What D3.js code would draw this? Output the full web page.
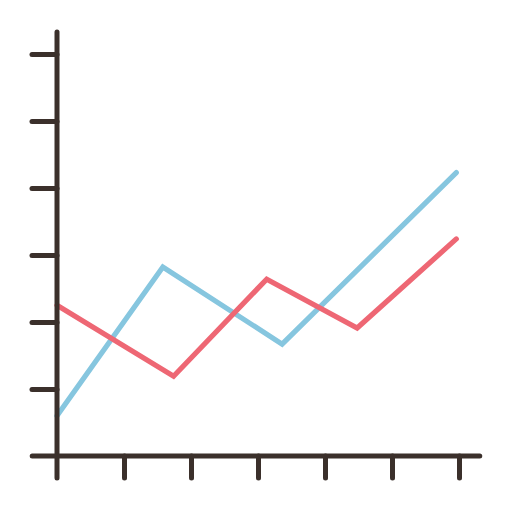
<!DOCTYPE html>
<html>
<head>
<meta charset="utf-8">
<script src="https://cdn.jsdelivr.net/npm/d3@7"></script>
<style>
  html, body { margin: 0; padding: 0; background: #fff; }
  svg { display: block; }
</style>
</head>
<body>
<div id="chart"></div>
<script>
// tick positions along each axis
const xTicks = [1, 2, 3, 4, 5, 6];
const yTicks = [1, 2, 3, 4, 5, 6];

// series (x in tick units, y in tick units)
const blueX = [0, 1.58, 3.36, 5.96];
const blueY = [0.6, 2.82, 1.67, 4.23];
const redX = [0, 1.74, 3.13, 4.48, 5.96];
const redY = [2.25, 1.19, 2.64, 1.91, 3.24];

const width = 512, height = 512;
const axisColor = '#3b302b';

const x = d3.scaleLinear().domain([0, 6]).range([57, 459]);
const y = d3.scaleLinear().domain([0, 6]).range([456, 54]);

const svg = d3.select('#chart')
  .append('svg')
    .attr('width', width)
    .attr('height', height);

const line = d3.line()
  .x(d => x(d[0]))
  .y(d => y(d[1]));

const series = [
  { color: '#86c6df', pts: d3.zip(blueX, blueY) },
  { color: '#ee6774', pts: d3.zip(redX, redY) }
];

svg.selectAll('.series')
  .data(series)
  .enter().append('path')
    .attr('class', 'series')
    .attr('d', d => line(d.pts))
    .attr('fill', 'none')
    .attr('stroke', d => d.color)
    .attr('stroke-width', 5.2)
    .attr('stroke-linecap', 'round')
    .attr('stroke-linejoin', 'miter');

// axes: ticks from d3 axis, domain lines drawn with round caps
const yAxis = svg.append('g')
  .attr('transform', `translate(${x(0)},0)`)
  .call(d3.axisLeft(y).tickValues(yTicks).tickSize(25).tickSizeOuter(0).tickFormat(''));

const xAxis = svg.append('g')
  .attr('transform', `translate(0,${y(0)})`)
  .call(d3.axisBottom(x).tickValues(xTicks).tickSize(22).tickSizeOuter(0).tickFormat(''));

[yAxis, xAxis].forEach(g => {
  g.select('.domain').remove();
  g.selectAll('.tick line')
    .attr('stroke', axisColor)
    .attr('stroke-width', 5)
    .attr('stroke-linecap', 'round');
});

svg.append('line')
  .attr('x1', x(0)).attr('x2', x(0))
  .attr('y1', y(6.33)).attr('y2', y(-0.33))
  .attr('stroke', axisColor).attr('stroke-width', 5).attr('stroke-linecap', 'round');

svg.append('line')
  .attr('x1', x(-0.37)).attr('x2', x(6.31))
  .attr('y1', y(0)).attr('y2', y(0))
  .attr('stroke', axisColor).attr('stroke-width', 5).attr('stroke-linecap', 'round');
</script>
</body>
</html>
